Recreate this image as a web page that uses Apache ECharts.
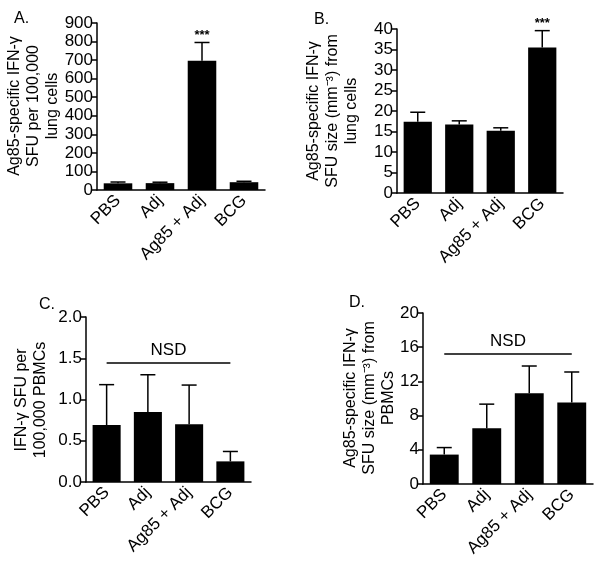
<!DOCTYPE html>
<html><head><meta charset="utf-8">
<script src="https://cdn.jsdelivr.net/npm/echarts@6/dist/echarts.min.js"></script>
<style>html,body{margin:0;padding:0;background:#fff}#c{width:601px;height:563px}</style>
</head><body><div id="c"></div>
<script>
var categories = ['PBS', 'Adj', 'Ag85 + Adj', 'BCG'];

var aMeans = [36, 37, 697, 42];
var aErr = [7, 5, 98, 5];
var aStars = ['', '', '***', ''];

var bMeans = [17.4, 16.7, 15.2, 35.5];
var bErr = [2.3, 0.9, 0.7, 4.1];
var bStars = ['', '', '', '***'];

var cMeans = [0.69, 0.85, 0.70, 0.25];
var cErr = [0.49, 0.45, 0.475, 0.12];
var cNSD = 1.45;

var dMeans = [3.44, 6.52, 10.6, 9.53];
var dErr = [0.82, 2.82, 3.2, 3.57];
var dNSD = 15.2;

var FONT = 'Liberation Sans, Arial, sans-serif';

var panels = [
  {grid:{left:97,right:336,top:23,bottom:373}, min:0,max:900,interval:100, dec:0, means:aMeans, err:aErr, stars:aStars,
   name:'Ag85-specific IFN-γ\nSFU per 100,000\nlung cells', nx:34, ny:106},
  {grid:{left:397,right:38,top:29,bottom:370}, min:0,max:40,interval:5, dec:0, means:bMeans, err:bErr, stars:bStars,
   name:'Ag85-specific IFN-γ\nSFU size (mm⁻³) from\nlung cells', nx:333, ny:111},
  {grid:{left:86,right:350,top:317,bottom:81}, min:0,max:2,interval:0.5, dec:1, means:cMeans, err:cErr, nsd:cNSD,
   name:'IFN-γ SFU per\n100,000 PBMCs', nx:31, ny:400},
  {grid:{left:423,right:8,top:313,bottom:79}, min:0,max:20,interval:4, dec:0, means:dMeans, err:dErr, nsd:dNSD,
   name:'Ag85-specific IFN-γ\nSFU size (mm⁻³) from\nPBMCs', nx:370, ny:398}
];

var grids=[], xAxes=[], yAxes=[], series=[], graphics=[];
panels.forEach(function(p,i){
  grids.push(p.grid);
  xAxes.push({type:'category', gridIndex:i, data:categories, boundaryGap:true,
    axisLine:{lineStyle:{color:'#000',width:1.5}}, axisTick:{show:false},
    axisLabel:{rotate:45, color:'#000', fontSize:17, fontFamily:FONT, margin:8, interval:0}});
  yAxes.push({type:'value', gridIndex:i, min:p.min, max:p.max, interval:p.interval,
    axisLine:{show:true, lineStyle:{color:'#000',width:1.5}}, axisTick:{show:true, length:5, lineStyle:{color:'#000',width:1.5}},
    splitLine:{show:false},
    axisLabel:{color:'#000', fontSize:17, fontFamily:FONT, margin:4, formatter:function(v){return v.toFixed(p.dec);}}});
  graphics.push({type:'text', x:p.nx, y:p.ny, rotation:Math.PI/2, silent:true,
    style:{text:p.name, align:'center', verticalAlign:'middle', fontSize:16, lineHeight:19, fontFamily:FONT, fill:'#000'}});
  var bar = {type:'bar', xAxisIndex:i, yAxisIndex:i, data:p.means, barWidth:'68%',
    itemStyle:{color:'#000'}, silent:true, animation:false};
  if (p.nsd !== undefined) {
    bar.markLine = {symbol:'none', silent:true, animation:false,
      lineStyle:{color:'#000', width:1.5, type:'solid'},
      label:{show:true, position:'insideMiddleTop', formatter:'NSD', color:'#000', fontSize:17, fontFamily:FONT, distance:4},
      data:[[{coord:[0,p.nsd]},{coord:[3,p.nsd]}]]};
  }
  series.push(bar);
  var edata = p.means.map(function(m,k){return [k, m, p.err[k], p.stars ? p.stars[k] : ''];});
  series.push({type:'custom', xAxisIndex:i, yAxisIndex:i, data:edata, animation:false, silent:true, z:5,
    renderItem:function(params, api){
      var k=api.value(0), m=api.value(1), e=api.value(2);
      var s = edata[params.dataIndex][3];
      var p0=api.coord([k,m]), p1=api.coord([k,m+e]);
      var ch=[
        {type:'line', shape:{x1:p0[0],y1:p0[1],x2:p1[0],y2:p1[1]}, style:{stroke:'#000',lineWidth:1.5}},
        {type:'line', shape:{x1:p1[0]-7.5,y1:p1[1],x2:p1[0]+7.5,y2:p1[1]}, style:{stroke:'#000',lineWidth:1.5}}
      ];
      if (s) ch.push({type:'text', style:{text:s, x:p1[0], y:p1[1]-1, align:'center', verticalAlign:'bottom', fontSize:13, fontFamily:FONT, fill:'#000', fontWeight:'bold'}});
      return {type:'group', children:ch};
    }});
});

var chart = echarts.init(document.getElementById('c'), null, {renderer:'canvas'});
chart.setOption({
  backgroundColor:'#fff',
  animation:false,
  title:[
    {text:'A.', left:9, top:6, textStyle:{fontSize:16, fontWeight:'normal', color:'#000', fontFamily:FONT}},
    {text:'B.', left:309, top:7, textStyle:{fontSize:16, fontWeight:'normal', color:'#000', fontFamily:FONT}},
    {text:'C.', left:34, top:292, textStyle:{fontSize:16, fontWeight:'normal', color:'#000', fontFamily:FONT}},
    {text:'D.', left:344, top:290, textStyle:{fontSize:16, fontWeight:'normal', color:'#000', fontFamily:FONT}}
  ],
  graphic:graphics,
  grid:grids, xAxis:xAxes, yAxis:yAxes, series:series
});
</script></body></html>
